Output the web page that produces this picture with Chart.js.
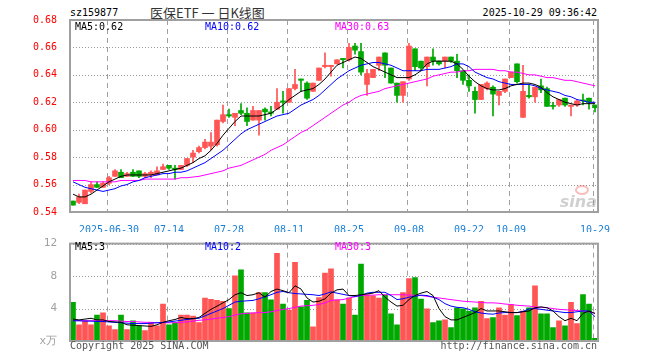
<!DOCTYPE html>
<html>
<head>
<meta charset="utf-8">
<script src="https://cdn.jsdelivr.net/npm/chart.js@4.4.1/dist/chart.umd.min.js"></script>
<style>
  body { margin: 0; width: 660px; height: 360px; background: #fff; position: relative; overflow: hidden; font-family: "DejaVu Sans Mono", monospace; }
  .t { position: absolute; font-size: 10px; line-height: 12px; white-space: pre; }
  #main { position: absolute; left: 0; top: 0; }
  #vol { position: absolute; left: 0; top: 232px; }
</style>
</head>
<body>
<div class="t" style="left:70px;top:7px;color:#000">sz159877</div>
<div class="t" style="left:150px;top:4px;font-family:'Noto Sans CJK SC';font-size:13px;line-height:17px;color:#333">医保ETF 一 日K线图</div>
<div class="t" style="right:63px;top:7px;color:#000">2025-10-29 09:36:42</div>

<canvas id="main" width="660" height="232"></canvas>
<canvas id="vol" width="660" height="128"></canvas>

<div class="t" style="left:75px;top:21px;color:#000">MA5:0.62</div>
<div class="t" style="left:205px;top:21px;color:#0000ff">MA10:0.62</div>
<div class="t" style="left:335px;top:21px;color:#ff00ff">MA30:0.63</div>
<div class="t" style="left:75px;top:241px;color:#000">MA5:3</div>
<div class="t" style="left:205px;top:241px;color:#0000ff">MA10:2</div>
<div class="t" style="left:335px;top:241px;color:#ff00ff">MA30:3</div>
<div class="t" style="left:70px;top:340px;color:#555">Copyright 2025 SINA.COM</div>
<div class="t" style="right:63px;top:340px;color:#555">http://finance.sina.com.cn</div>

<script>
// --- data ----------------------------------------------------------------- //

const dates = [
    '06-20', '06-23', '06-24', '06-25', '06-26', '06-27', '06-30',
    '07-01', '07-02', '07-03', '07-04', '07-07', '07-08', '07-09', '07-10', '07-11', '07-14', '07-15', '07-16', '07-17', '07-18',
    '07-21', '07-22', '07-23', '07-24', '07-25', '07-28', '07-29', '07-30', '07-31',
    '08-01', '08-04', '08-05', '08-06', '08-07', '08-08', '08-11', '08-12', '08-13', '08-14', '08-15',
    '08-18', '08-19', '08-20', '08-21', '08-22', '08-25', '08-26', '08-27', '08-28', '08-29',
    '09-01', '09-02', '09-03', '09-04', '09-05', '09-08', '09-09', '09-10', '09-11', '09-12',
    '09-15', '09-16', '09-17', '09-18', '09-19', '09-22', '09-23', '09-24', '09-25', '09-26', '09-29', '09-30',
    '10-09', '10-10', '10-13', '10-14', '10-15', '10-16', '10-17', '10-20', '10-21', '10-22', '10-23', '10-24',
    '10-27', '10-28', '10-29'
];

const tickDates = ['06-30', '07-14', '07-28', '08-11', '08-25', '09-08', '09-22', '10-09', '10-29'];
const tickLabels = ['2025-06-30', '07-14', '07-28', '08-11', '08-25', '09-08', '09-22', '10-09', '10-29'];

const open = [
    0.548, 0.547, 0.546, 0.555, 0.560, 0.558, 0.561, 0.566, 0.569, 0.566,
    0.569, 0.570, 0.566, 0.567, 0.567, 0.571, 0.574, 0.572, 0.571, 0.574,
    0.580, 0.584, 0.587, 0.588, 0.589, 0.606, 0.611, 0.609, 0.614, 0.612,
    0.607, 0.607, 0.615, 0.613, 0.615, 0.621, 0.620, 0.630, 0.637, 0.634,
    0.628, 0.636, 0.646, 0.646, 0.648, 0.652, 0.651, 0.661, 0.657, 0.633,
    0.638, 0.647, 0.656, 0.645, 0.634, 0.625, 0.637, 0.659, 0.650, 0.646,
    0.653, 0.650, 0.650, 0.653, 0.650, 0.643, 0.636, 0.628, 0.622, 0.630,
    0.631, 0.625, 0.628, 0.638, 0.648, 0.609, 0.625, 0.624, 0.632, 0.630,
    0.617, 0.618, 0.623, 0.617, 0.618, 0.621, 0.623, 0.618
];
const high = [
    0.548, 0.553, 0.556, 0.562, 0.562, 0.562, 0.566, 0.571, 0.571, 0.569,
    0.571, 0.570, 0.569, 0.570, 0.573, 0.575, 0.574, 0.574, 0.574, 0.579,
    0.585, 0.588, 0.593, 0.598, 0.607, 0.618, 0.615, 0.612, 0.619, 0.616,
    0.617, 0.614, 0.616, 0.617, 0.630, 0.628, 0.630, 0.644, 0.637, 0.635,
    0.634, 0.645, 0.656, 0.647, 0.651, 0.652, 0.663, 0.663, 0.663, 0.644,
    0.644, 0.653, 0.656, 0.645, 0.634, 0.635, 0.663, 0.659, 0.650, 0.653,
    0.659, 0.650, 0.653, 0.653, 0.655, 0.643, 0.640, 0.631, 0.633, 0.635,
    0.632, 0.628, 0.637, 0.642, 0.648, 0.647, 0.633, 0.631, 0.637, 0.631,
    0.620, 0.622, 0.623, 0.618, 0.622, 0.626, 0.623, 0.618
];
const low = [
    0.545, 0.546, 0.546, 0.554, 0.558, 0.558, 0.560, 0.566, 0.565, 0.566,
    0.566, 0.565, 0.565, 0.565, 0.567, 0.571, 0.571, 0.564, 0.571, 0.573,
    0.576, 0.583, 0.586, 0.585, 0.588, 0.605, 0.609, 0.603, 0.611, 0.603,
    0.607, 0.596, 0.607, 0.610, 0.615, 0.612, 0.620, 0.629, 0.628, 0.622,
    0.628, 0.636, 0.645, 0.639, 0.648, 0.645, 0.650, 0.655, 0.640, 0.625,
    0.638, 0.643, 0.638, 0.634, 0.620, 0.620, 0.636, 0.643, 0.643, 0.632,
    0.647, 0.647, 0.645, 0.649, 0.638, 0.633, 0.628, 0.612, 0.622, 0.629,
    0.610, 0.618, 0.627, 0.638, 0.634, 0.609, 0.623, 0.620, 0.627, 0.617,
    0.615, 0.617, 0.617, 0.610, 0.617, 0.618, 0.615, 0.613
];
const close = [
    0.545, 0.551, 0.556, 0.560, 0.558, 0.561, 0.565, 0.570, 0.565, 0.568,
    0.566, 0.566, 0.568, 0.569, 0.570, 0.573, 0.572, 0.571, 0.574, 0.579,
    0.583, 0.587, 0.591, 0.591, 0.607, 0.611, 0.610, 0.612, 0.612, 0.606,
    0.614, 0.614, 0.613, 0.612, 0.620, 0.620, 0.630, 0.633, 0.636, 0.623,
    0.634, 0.645, 0.647, 0.647, 0.651, 0.651, 0.660, 0.658, 0.642, 0.641,
    0.644, 0.653, 0.647, 0.634, 0.625, 0.635, 0.661, 0.646, 0.645, 0.653,
    0.650, 0.648, 0.653, 0.650, 0.643, 0.636, 0.632, 0.622, 0.633, 0.634,
    0.626, 0.628, 0.637, 0.642, 0.635, 0.628, 0.624, 0.631, 0.629, 0.617,
    0.617, 0.622, 0.618, 0.618, 0.621, 0.621, 0.620, 0.616
];

const ma5 = [
    0.553, 0.551, 0.551, 0.553, 0.556, 0.559, 0.562, 0.564, 0.566, 0.567,
    0.567, 0.567, 0.567, 0.567, 0.568, 0.569, 0.570, 0.571, 0.572, 0.574,
    0.576, 0.579, 0.581, 0.585, 0.590, 0.596, 0.601, 0.606, 0.610, 0.610,
    0.610, 0.610, 0.611, 0.612, 0.615, 0.618, 0.622, 0.625, 0.628, 0.629,
    0.630, 0.633, 0.637, 0.642, 0.647, 0.649, 0.651, 0.653, 0.652, 0.649,
    0.646, 0.644, 0.642, 0.640, 0.638, 0.638, 0.638, 0.640, 0.643, 0.648,
    0.650, 0.650, 0.650, 0.650, 0.648, 0.644, 0.639, 0.635, 0.632, 0.630,
    0.629, 0.629, 0.630, 0.632, 0.633, 0.634, 0.634, 0.633, 0.631, 0.627,
    0.624, 0.622, 0.620, 0.619, 0.618, 0.619, 0.619, 0.619
];
const ma10 = [
    0.562, 0.560, 0.558, 0.557, 0.556, 0.555, 0.556, 0.557, 0.559, 0.560,
    0.562, 0.563, 0.565, 0.566, 0.567, 0.568, 0.568, 0.569, 0.569, 0.570,
    0.572, 0.574, 0.576, 0.579, 0.582, 0.585, 0.589, 0.593, 0.597, 0.600,
    0.602, 0.604, 0.606, 0.608, 0.610, 0.611, 0.612, 0.615, 0.618, 0.620,
    0.622, 0.625, 0.629, 0.633, 0.637, 0.640, 0.643, 0.645, 0.647, 0.648,
    0.649, 0.649, 0.648, 0.647, 0.645, 0.643, 0.643, 0.643, 0.643, 0.644,
    0.644, 0.644, 0.645, 0.646, 0.648, 0.648, 0.646, 0.642, 0.640, 0.638,
    0.637, 0.635, 0.634, 0.633, 0.633, 0.633, 0.633, 0.632, 0.630, 0.629,
    0.628, 0.627, 0.625, 0.624, 0.622, 0.621, 0.620, 0.620
];
const ma30 = [
    0.563, 0.563, 0.563, 0.562, 0.562, 0.562, 0.562, 0.562, 0.563, 0.563,
    0.563, 0.563, 0.564, 0.564, 0.564, 0.564, 0.564, 0.564, 0.565, 0.565,
    0.5655, 0.566, 0.567, 0.568, 0.569, 0.570, 0.572, 0.573, 0.574, 0.576,
    0.578, 0.580, 0.582, 0.585, 0.587, 0.589, 0.592, 0.595, 0.598, 0.600,
    0.603, 0.606, 0.609, 0.612, 0.615, 0.618, 0.620, 0.623, 0.625, 0.626,
    0.627, 0.628, 0.630, 0.631, 0.632, 0.633, 0.634, 0.635, 0.636, 0.637,
    0.639, 0.640, 0.641, 0.642, 0.642, 0.643, 0.643, 0.644, 0.644, 0.644,
    0.644, 0.643, 0.643, 0.642, 0.642, 0.641, 0.640, 0.640, 0.639, 0.638,
    0.638, 0.637, 0.636, 0.636, 0.635, 0.634, 0.633, 0.632
];

// volumen (x万)
const volume = [
    4.76, 2.0, 2.48, 2.0, 3.2, 3.48, 1.88, 1.4, 3.2, 1.4,
    2.48, 1.88, 1.28, 2.28, 1.88, 4.56, 2.0, 2.28, 3.2, 3.2,
    3.08, 2.28, 5.28, 5.12, 5.0, 4.88, 4.0, 8.04, 8.76, 3.48,
    3.48, 5.96, 5.96, 5.08, 10.8, 4.56, 3.8, 9.68, 4.2, 5.0,
    1.76, 5.36, 8.36, 8.88, 5.08, 4.56, 5.28, 3.2, 9.48, 5.68,
    5.56, 5.28, 5.68, 3.36, 2.0, 5.96, 7.68, 7.8, 5.16, 3.96,
    2.28, 2.48, 2.6, 1.64, 4.08, 3.96, 3.68, 4.08, 4.88, 2.76,
    2.88, 4.08, 3.2, 4.48, 3.12, 3.68, 4.08, 6.8, 3.36, 3.36,
    1.64, 2.48, 1.88, 4.76, 2.16, 5.72, 4.56, 0.32
];
const volMa5 = [
    2.7, 2.6, 2.7, 2.8, 2.6, 2.6, 2.4, 2.35, 2.3, 2.0,
    1.95, 1.9, 1.85, 1.8, 2.0, 2.3, 2.5, 2.65, 2.9, 2.75,
    2.75, 2.9, 3.4, 3.9, 4.3, 4.7, 5.1, 5.7, 5.95, 5.6,
    5.7, 5.95, 5.4, 6.1, 6.4, 6.2, 5.95, 6.8, 6.4, 5.3,
    4.8, 4.9, 5.2, 5.9, 6.3, 6.4, 5.6, 5.6, 5.7, 5.8,
    5.9, 6.2, 5.4, 4.8, 4.3, 4.4, 5.1, 5.6, 5.9, 6.1,
    5.6, 4.0, 3.0, 2.6, 2.6, 2.9, 3.2, 3.5, 4.0, 3.7,
    3.7, 3.7, 3.6, 3.5, 3.5, 3.6, 3.7, 4.1, 4.2, 4.1,
    3.7, 3.0, 2.5, 2.8, 2.5, 3.4, 3.7, 3.4
];
const volMa10 = [
    2.5, 2.5, 2.45, 2.45, 2.4, 2.4, 2.35, 2.3, 2.25, 2.2,
    2.15, 2.15, 2.15, 2.2, 2.25, 2.3, 2.35, 2.45, 2.55, 2.65,
    2.75, 2.8, 3.1, 3.4, 3.7, 4.0, 4.4, 4.8, 4.9, 4.95,
    5.0, 5.2, 5.45, 5.7, 6.0, 6.1, 5.95, 5.85, 5.8, 5.75,
    5.7, 5.6, 5.8, 6.05, 5.9, 5.75, 5.6, 5.5, 5.6, 5.9,
    6.0, 6.0, 6.0, 5.6, 5.1, 5.2, 5.4, 5.5, 5.65, 5.6,
    5.4, 5.1, 4.6, 4.3, 4.15, 4.1, 3.9, 3.6, 3.45, 3.35,
    3.3, 3.45, 3.5, 3.5, 3.5, 3.65, 3.95, 4.0, 3.9, 3.8,
    3.7, 3.6, 3.5, 3.5, 3.6, 3.7, 3.7, 3.0
];
const volMa30 = [
    2.5, 2.5, 2.5, 2.5, 2.5, 2.5, 2.5, 2.5, 2.45, 2.4,
    2.4, 2.35, 2.3, 2.3, 2.25, 2.25, 2.25, 2.25, 2.3, 2.35,
    2.45, 2.55, 2.6, 2.7, 2.8, 2.9, 3.0, 3.2, 3.35, 3.4,
    3.45, 3.5, 3.5, 3.6, 3.75, 3.9, 4.0, 4.15, 4.3, 4.35,
    4.4, 4.5, 4.7, 5.0, 5.05, 5.1, 5.3, 5.45, 5.6, 5.65,
    5.65, 5.7, 5.7, 5.7, 5.7, 5.7, 5.65, 5.65, 5.6, 5.5,
    5.4, 5.3, 5.2, 5.1, 5.0, 4.9, 4.85, 4.8, 4.75, 4.7,
    4.7, 4.65, 4.55, 4.5, 4.4, 4.35, 4.3, 4.2, 4.15, 4.1,
    4.0, 3.9, 3.85, 3.8, 3.75, 3.7, 3.6, 3.4
];

// --- estilos --------------------------------------------------------------- //

const UP = '#ff5555';
const DOWN = '#00a800';
const MONO = 'DejaVu Sans Mono';

const candleColors = close.map((c, i) => c > open[i] ? UP : DOWN);
const isTick = i => tickDates.includes(dates[i]);

// rejilla: punteada en horizontal, discontinua en las fechas marcadas
const gridPlugin = {
    id: 'sinaGrid',
    beforeDatasetsDraw(chart) {
        const { ctx, chartArea: a, scales: { x, y } } = chart;
        ctx.save();
        ctx.lineWidth = 1;
        ctx.strokeStyle = '#999999';
        ctx.setLineDash([1, 2]);
        y.ticks.forEach(t => {
            const py = Math.round(y.getPixelForValue(t.value)) + 0.5;
            ctx.beginPath();
            ctx.moveTo(a.left, py);
            ctx.lineTo(a.right, py);
            ctx.stroke();
        });
        ctx.strokeStyle = '#a0a0a0';
        ctx.setLineDash([5, 4]);
        dates.forEach((d, i) => {
            if (!isTick(i)) return;
            const px = Math.round(x.getPixelForValue(i)) - 1.5;
            ctx.beginPath();
            ctx.moveTo(px, a.top);
            ctx.lineTo(px, a.bottom);
            ctx.stroke();
        });
        ctx.restore();
    }
};

// marco gris alrededor del área del gráfico
const framePlugin = {
    id: 'frame',
    afterDraw(chart) {
        const { ctx, chartArea: a } = chart;
        ctx.save();
        ctx.strokeStyle = '#a0a0a0';
        ctx.lineWidth = 2;
        ctx.strokeRect(a.left, a.top, a.right - a.left, a.bottom - a.top);
        ctx.restore();
    }
};

// marca de agua "sina"
const sinaPlugin = {
    id: 'sina',
    beforeDatasetsDraw(chart) {
        const { ctx, chartArea: a } = chart;
        ctx.save();
        ctx.strokeStyle = 'rgba(240,110,110,0.45)';
        ctx.lineWidth = 2;
        ctx.beginPath();
        ctx.ellipse(a.right - 16, a.bottom - 22, 6, 4, 0, 0, Math.PI * 2);
        ctx.stroke();
        ctx.fillStyle = 'rgba(150,150,150,0.45)';
        ctx.font = 'italic bold 16px "DejaVu Sans"';
        ctx.textAlign = 'right';
        ctx.fillText('sina', a.right - 1, a.bottom - 5);
        ctx.restore();
    }
};

const lineDs = (data, color) => ({
    type: 'line',
    data: data,
    borderColor: color,
    borderWidth: 1,
    pointRadius: 0,
    tension: 0,
    order: 0
});

const xScale = (showLabels) => ({
    offset: true,
    grid: { display: false },
    border: { display: false },
    ticks: {
        display: showLabels,
        autoSkip: false,
        maxRotation: 0,
        padding: 4,
        color: '#1a7fd4',
        font: { family: MONO, size: 10 },
        callback: function (value) {
            const k = tickDates.indexOf(this.getLabelForValue(value));
            return k >= 0 ? tickLabels[k] : '';
        }
    },
    afterFit(scale) { scale.height = showLabels ? 20 : 19; }
});

// --- gráfico de precio (velas) --------------------------------------------- //

new Chart(document.getElementById('main'), {
    type: 'bar',
    data: {
        labels: dates,
        datasets: [
            lineDs(ma5, '#000000'),
            lineDs(ma10, '#0000ff'),
            lineDs(ma30, '#ff00ff'),
            {
                data: low.map((l, i) => [l, high[i]]),
                backgroundColor: candleColors,
                barThickness: 1,
                grouped: false,
                order: 2
            },
            {
                data: open.map((o, i) => [o, close[i]]),
                backgroundColor: candleColors,
                barThickness: 5,
                minBarLength: 1,
                grouped: false,
                order: 1
            }
        ]
    },
    options: {
        responsive: false,
        animation: false,
        devicePixelRatio: 1,
        events: [],
        layout: { padding: { top: 20, right: 62, left: 0, bottom: 0 } },
        plugins: { legend: { display: false }, tooltip: { enabled: false } },
        scales: {
            x: xScale(true),
            y: {
                min: 0.54,
                max: 0.68,
                grid: { display: false },
                border: { display: false },
                ticks: {
                    stepSize: 0.02,
                    padding: 5,
                    color: '#ff0000',
                    font: { family: MONO, size: 10 },
                    callback: v => v.toFixed(2)
                },
                afterFit(scale) { scale.width = 70; }
            }
        }
    },
    plugins: [gridPlugin, sinaPlugin, framePlugin]
});

// --- gráfico de volumen ---------------------------------------------------- //

new Chart(document.getElementById('vol'), {
    type: 'bar',
    data: {
        labels: dates,
        datasets: [
            lineDs(volMa5, '#000000'),
            lineDs(volMa10, '#0000ff'),
            lineDs(volMa30, '#ff00ff'),
            {
                data: volume,
                backgroundColor: candleColors,
                barThickness: 5,
                order: 1
            }
        ]
    },
    options: {
        responsive: false,
        animation: false,
        devicePixelRatio: 1,
        events: [],
        layout: { padding: { top: 9, right: 62, left: 0, bottom: 0 } },
        plugins: { legend: { display: false }, tooltip: { enabled: false } },
        scales: {
            x: xScale(false),
            y: {
                min: 0,
                max: 12,
                grid: { display: false },
                border: { display: false },
                ticks: {
                    stepSize: 4,
                    padding: 5,
                    color: '#a0a0a0',
                    font: { family: MONO, size: 11 },
                    callback: v => v === 0 ? 'x万' : String(v)
                },
                afterFit(scale) { scale.width = 70; }
            }
        }
    },
    plugins: [gridPlugin, framePlugin]
});
</script>
</body>
</html>
